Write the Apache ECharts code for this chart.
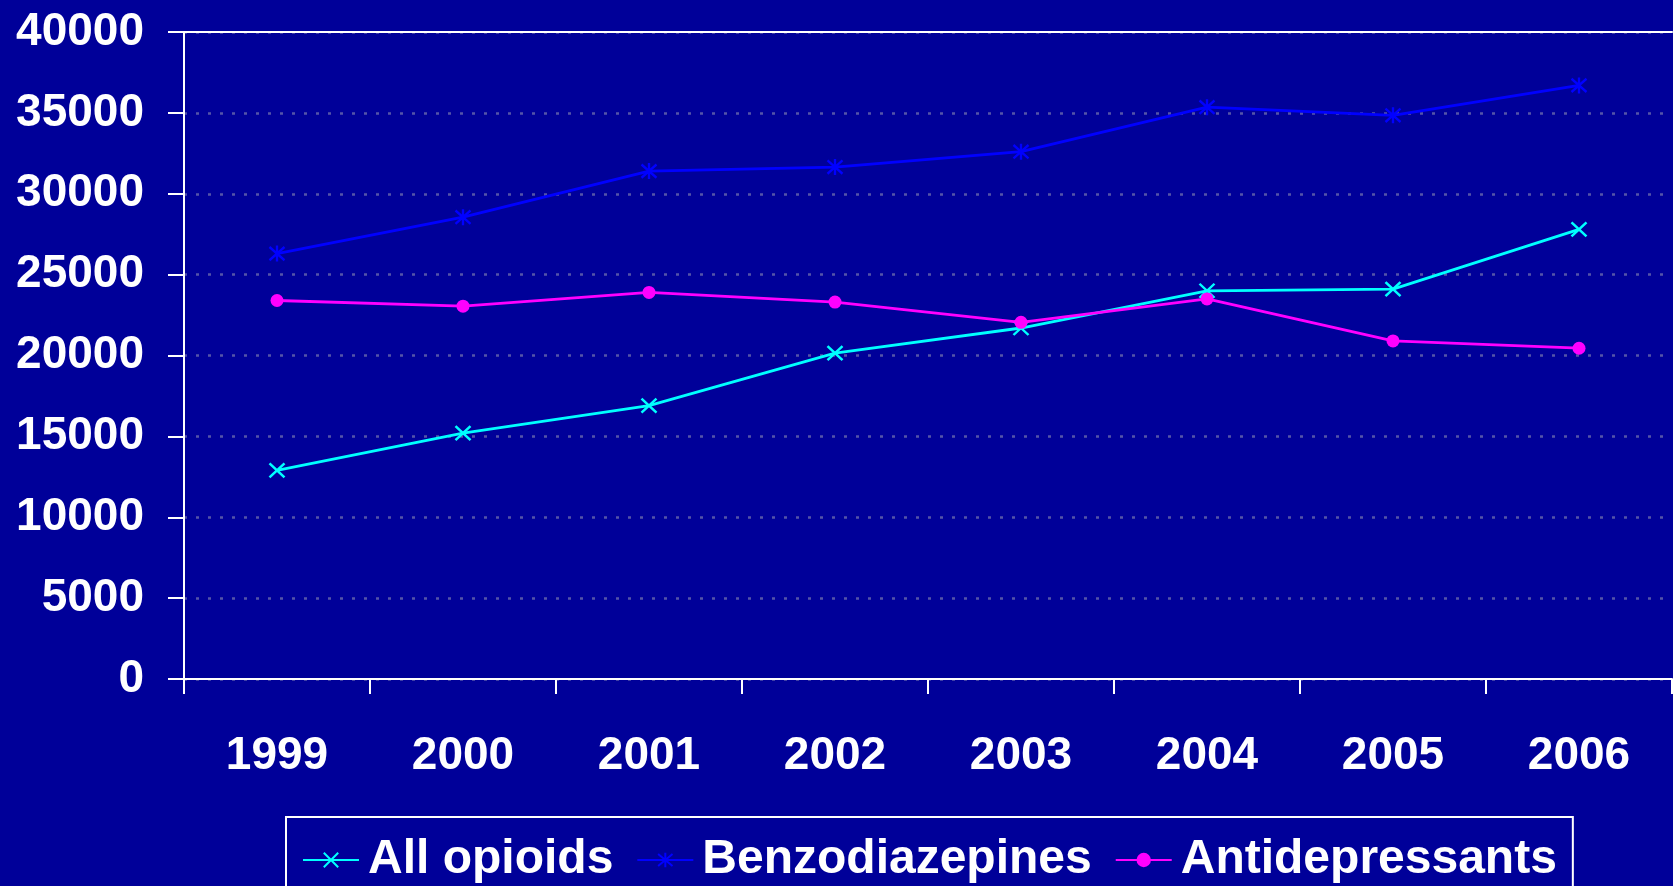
<!DOCTYPE html>
<html>
<head>
<meta charset="utf-8">
<script src="https://cdn.jsdelivr.net/npm/echarts@6/dist/echarts.min.js"></script>
<style>
  html, body { margin: 0; padding: 0; background: #000099; }
  #chart { width: 1673px; height: 886px; }
</style>
</head>
<body>
<div id="chart"></div>
<script>
// Yearly counts by drug class
const years = ['1999', '2000', '2001', '2002', '2003', '2004', '2005', '2006'];
const allOpioids = [12900, 15200, 16900, 20150, 21700, 24000, 24100, 27800];
const benzodiazepines = [26300, 28550, 31400, 31650, 32600, 35350, 34850, 36700];
const antidepressants = [23400, 23050, 23900, 23300, 22050, 23500, 20900, 20450];

const FONT = '"Liberation Sans", Arial, sans-serif';
const crossPath = 'path://M0,0L10,10M10,0L0,10';
const starPath = 'path://M0,1L10,11M10,1L0,11M5,0L5,12';

const chart = echarts.init(document.getElementById('chart'));
chart.setOption({
  backgroundColor: '#000099',
  animation: false,
  textStyle: { fontFamily: FONT },
  grid: { left: 184, right: 1, top: 32, bottom: 207 },
  legend: {
    left: 286,
    top: 817,
    padding: [19, 16, 40, 16],
    borderColor: '#ffffff',
    borderWidth: 2,
    itemWidth: 56,
    itemHeight: 18,
    itemGap: 23,
    textStyle: {
      color: '#ffffff', fontSize: 48, fontWeight: 'bold', fontFamily: FONT,
      padding: [0, 0, 0, 4]
    },
    data: ['All opioids', 'Benzodiazepines', 'Antidepressants']
  },
  xAxis: [{
    type: 'category',
    data: years,
    boundaryGap: true,
    axisLine: { lineStyle: { color: '#ffffff', width: 2 } },
    axisTick: { show: true, length: 15, lineStyle: { color: '#ffffff', width: 2 } },
    axisLabel: { color: '#ffffff', fontSize: 46, fontWeight: 'bold', fontFamily: FONT, margin: 54 },
    splitLine: { show: false }
  }, {
    type: 'category',
    position: 'top',
    data: years,
    axisLine: { show: true, lineStyle: { color: '#ffffff', width: 2 } },
    axisTick: { show: false },
    axisLabel: { show: false },
    splitLine: { show: false }
  }],
  yAxis: {
    type: 'value',
    min: 0,
    max: 40000,
    interval: 5000,
    axisLine: { show: true, lineStyle: { color: '#ffffff', width: 2 } },
    axisTick: { show: true, length: 16, lineStyle: { color: '#ffffff', width: 2 } },
    axisLabel: {
      color: '#ffffff', fontSize: 46, fontWeight: 'bold', fontFamily: FONT, margin: 40,
      formatter: function (v) { return String(v); }
    },
    splitLine: { show: true, lineStyle: { color: '#5454a8', width: 2.5, type: [3, 9] } }
  },
  series: [{
    name: 'All opioids',
    type: 'line',
    data: allOpioids,
    symbol: crossPath,
    symbolSize: [15, 14],
    lineStyle: { color: '#00ffff', width: 2.8 },
    itemStyle: { color: '#00ffff', borderColor: '#00ffff', borderWidth: 2.4 },
    z: 3
  }, {
    name: 'Benzodiazepines',
    type: 'line',
    data: benzodiazepines,
    symbol: starPath,
    symbolSize: [15, 16],
    lineStyle: { color: '#0000ff', width: 2.8 },
    itemStyle: { color: '#0000ff', borderColor: '#0000ff', borderWidth: 2.4 },
    z: 2
  }, {
    name: 'Antidepressants',
    type: 'line',
    data: antidepressants,
    symbol: 'circle',
    symbolSize: 13,
    lineStyle: { color: '#ff00ff', width: 2.8 },
    itemStyle: { color: '#ff00ff', borderWidth: 0 },
    z: 4
  }]
});
</script>
</body>
</html>
